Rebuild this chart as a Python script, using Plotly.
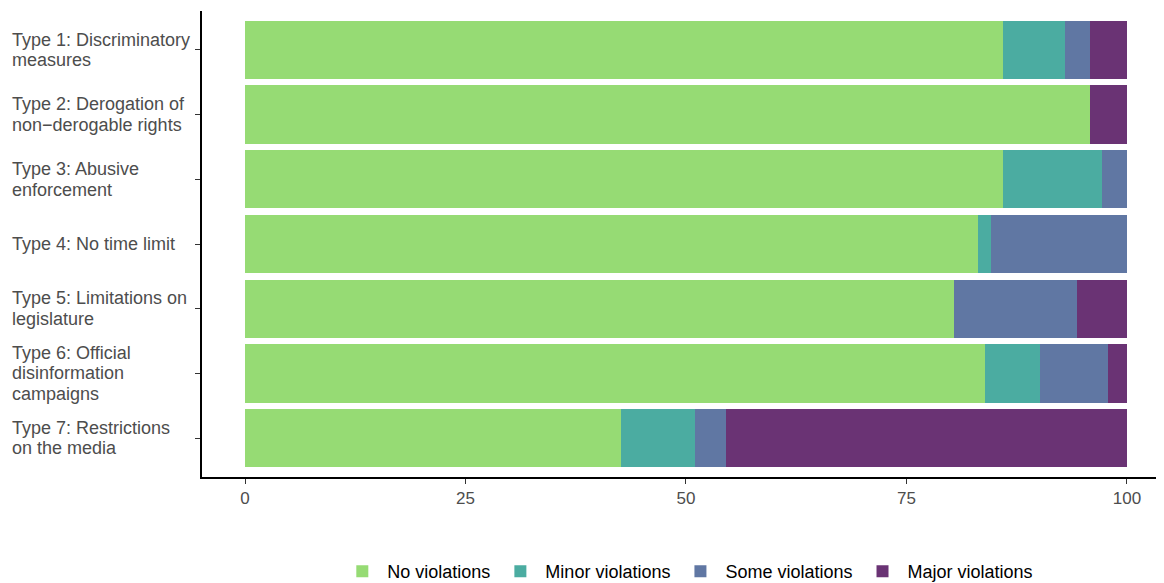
import plotly.graph_objects as go

categories = [
    "Type 1: Discriminatory<br>measures",
    "Type 2: Derogation of<br>non\u2212derogable rights",
    "Type 3: Abusive<br>enforcement",
    "Type 4: No time limit",
    "Type 5: Limitations on<br>legislature",
    "Type 6: Official<br>disinformation<br>campaigns",
    "Type 7: Restrictions<br>on the media",
]
cat_ids = ["t1", "t2", "t3", "t4", "t5", "t6", "t7"]

no_violations = [85.9, 95.8, 85.9, 83.1, 80.4, 83.9, 42.6]
minor_violations = [7.1, 0.0, 11.3, 1.5, 0.0, 6.2, 8.4]
some_violations = [2.8, 0.0, 2.8, 15.4, 13.9, 7.7, 3.5]
major_violations = [4.2, 4.2, 0.0, 0.0, 5.7, 2.2, 45.5]

series = [
    ("No violations", no_violations, "#96DB74"),
    ("Minor violations", minor_violations, "#4BACA1"),
    ("Some violations", some_violations, "#6077A3"),
    ("Major violations", major_violations, "#6A3374"),
]

x_ticks = [0, 25, 50, 75, 100]

FONT = "Liberation Sans, Arial, sans-serif"

fig = go.Figure()
for name, vals, color in series:
    fig.add_trace(go.Bar(
        x=vals, y=cat_ids, orientation="h", name=name,
        marker=dict(color=color, line=dict(width=0)),
    ))

line_gap = 20.5
for cid, label in zip(cat_ids, categories):
    lines = label.split("<br>")
    n = len(lines)
    for i, ln in enumerate(lines):
        fig.add_annotation(
            xref="paper", yref="y", x=0, y=cid, xshift=-192,
            yshift=((n - 1) / 2 - i) * line_gap,
            xanchor="left", yanchor="middle", align="left",
            text=ln, showarrow=False,
            font=dict(family=FONT, size=18, color="#4D4D4D"),
        )

fig.update_layout(
    barmode="stack",
    bargap=0.1,
    width=1156, height=575,
    margin=dict(l=194, r=0, t=3, b=106, autoexpand=False),
    plot_bgcolor="white", paper_bgcolor="white",
    font=dict(family=FONT, size=18, color="#4D4D4D"),
    xaxis=dict(
        range=[-4.875, 104.2], tickvals=x_ticks, ticktext=[str(t) for t in x_ticks],
        showgrid=False, zeroline=False, showline=True, linecolor="black", linewidth=1.5,
        ticks="outside", ticklen=5, tickcolor="#333333", tickwidth=1.2,
        tickfont=dict(family=FONT, size=17, color="#4D4D4D"),
    ),
    yaxis=dict(
        categoryorder="array", categoryarray=cat_ids, range=[6.6, -0.6],
        showgrid=False, zeroline=False, showline=True, linecolor="black", linewidth=1.5,
        ticks="outside", ticklen=5, tickcolor="#333333", tickwidth=1.2,
        showticklabels=False,
    ),
    legend=dict(
        orientation="h", x=0.505, xanchor="center", y=-0.203, yanchor="middle",
        font=dict(family=FONT, size=18, color="black"), traceorder="normal",
        itemwidth=40,
    ),
)

fig.write_html("out.html")
